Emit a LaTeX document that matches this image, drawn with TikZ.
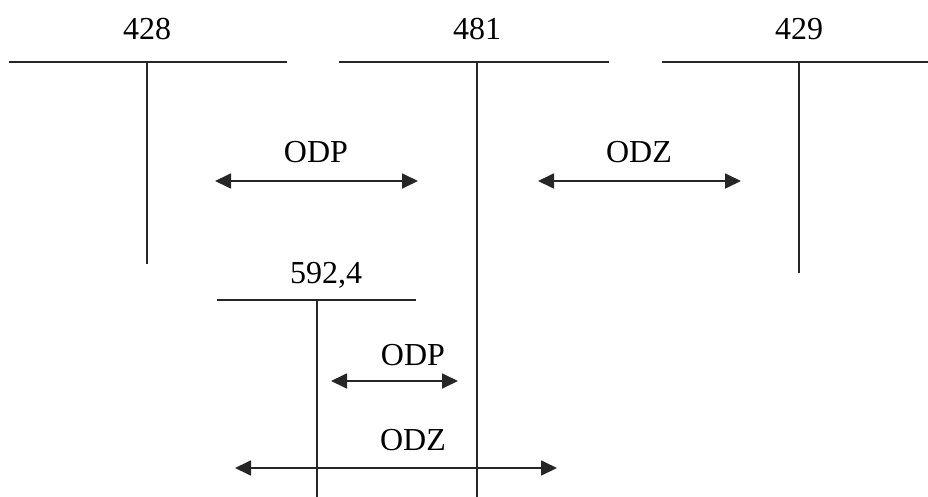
\documentclass[tikz,border=0pt]{standalone}
\usepackage{fontspec}
\setmainfont{Liberation Serif}
\usetikzlibrary{arrows.meta}
\begin{document}
\begin{tikzpicture}[x=1pt,y=-1pt,
  acct/.style={line width=1.6pt,draw=black!85},
  dbl/.style={line width=1.8pt,draw=black!85,{Triangle[length=16pt,width=15pt]}-{Triangle[length=16pt,width=15pt]}},
  lbl/.style={anchor=base,inner sep=0pt,font=\fontsize{32}{36}\selectfont}]
\useasboundingbox (0,0) rectangle (928,497);
% account 428
\coordinate (a1l) at (9,62); \coordinate (a1r) at (287,62);
\coordinate (a1t) at (147,62); \coordinate (a1b) at (147,264);
\node[lbl] (t1) at (147,40) {428};
\draw[acct] (a1l) -- (a1r); \draw[acct] (a1t) -- (a1b);
% account 481
\coordinate (a2l) at (339,62); \coordinate (a2r) at (609,62);
\coordinate (a2t) at (477,62); \coordinate (a2b) at (477,497);
\node[lbl] (t2) at (477,40) {481};
\draw[acct] (a2l) -- (a2r); \draw[acct] (a2t) -- (a2b);
% account 429
\coordinate (a3l) at (662,62); \coordinate (a3r) at (928,62);
\coordinate (a3t) at (799,62); \coordinate (a3b) at (799,273);
\node[lbl] (t3) at (799,40) {429};
\draw[acct] (a3l) -- (a3r); \draw[acct] (a3t) -- (a3b);
% account 592,4
\coordinate (a4l) at (217,300); \coordinate (a4r) at (416,300);
\coordinate (a4t) at (317,300); \coordinate (a4b) at (317,497);
\node[lbl] (t4) at (326,283) {592,4};
\draw[acct] (a4l) -- (a4r); \draw[acct] (a4t) -- (a4b);
% arrows
\coordinate (p1a) at (215,181); \coordinate (p1b) at (418,181);
\node[lbl] (l1) at (316,163) {ODP};
\draw[dbl] (p1a) -- (p1b);
\coordinate (z1a) at (538,181); \coordinate (z1b) at (741,181);
\node[lbl] (l2) at (639,163) {ODZ};
\draw[dbl] (z1a) -- (z1b);
\coordinate (p2a) at (331,381); \coordinate (p2b) at (458,381);
\node[lbl] (l3) at (413,365) {ODP};
\draw[dbl] (p2a) -- (p2b);
\coordinate (z2a) at (235,468); \coordinate (z2b) at (557,468);
\node[lbl] (l4) at (413,450) {ODZ};
\draw[dbl] (z2a) -- (z2b);
\end{tikzpicture}
\end{document}
